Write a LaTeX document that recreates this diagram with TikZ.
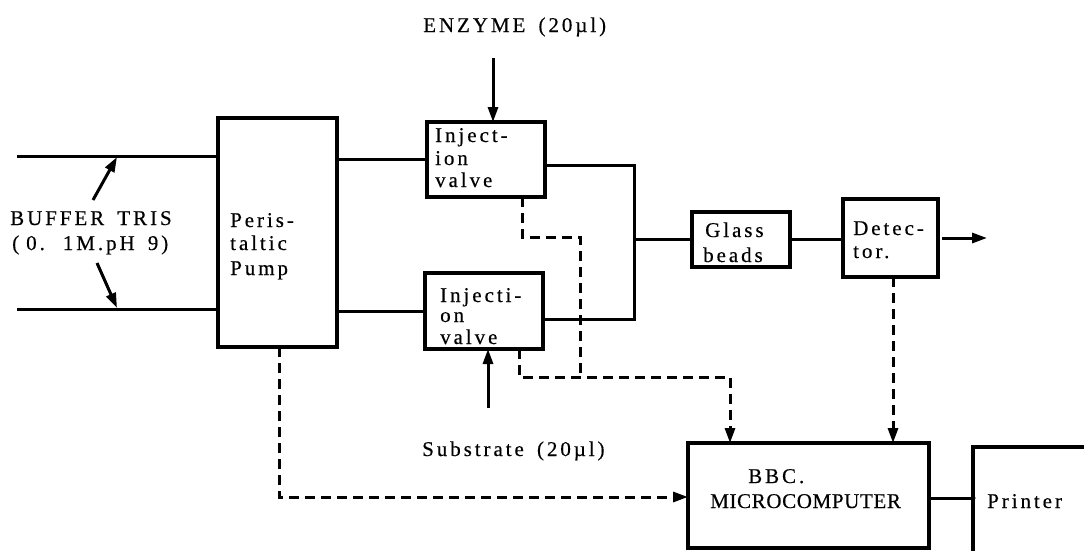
\documentclass[tikz,border=0pt]{standalone}
\usepackage{fontspec}
\setmainfont{Liberation Serif}
\newfontfamily\lsfont[LetterSpace=14,WordSpace=1.6,FakeBold=0.4]{Liberation Serif}
\newfontfamily\lstight[LetterSpace=3,WordSpace=1.6,FakeBold=0.4]{Liberation Serif}
\usetikzlibrary{arrows.meta}
\begin{document}
\begin{tikzpicture}[x=1pt,y=-1pt,
  box/.style={draw, line width=3.2pt, inner sep=0pt, outer sep=0pt},
  boxline/.style={line width=3.2pt},
  txt/.style={anchor=base west, inner sep=0pt, font=\lsfont\fontsize{21}{24}\selectfont},
  txttight/.style={anchor=base west, inner sep=0pt, font=\lstight\fontsize{21}{24}\selectfont},
  flow/.style={line width=3pt},
  sig/.style={line width=3pt, dash pattern=on 10pt off 6pt},
  tip/.style={-{Triangle[length=15pt,width=10pt]}}
]
\useasboundingbox (0,0) rectangle (1084,550);

% boxes
\node[box, minimum width=119pt, minimum height=229pt] (pump) at (277.5,232.5) {};
\node[box, minimum width=118pt, minimum height=75pt] (va) at (486,159.5) {};
\node[box, minimum width=118pt, minimum height=76pt] (vb) at (484,311) {};
\node[box, minimum width=98pt, minimum height=55pt] (glass) at (741,239.5) {};
\node[box, minimum width=95pt, minimum height=78pt] (det) at (890.5,238) {};
\node[box, minimum width=241pt, minimum height=105pt] (micro) at (808.5,495.5) {};
\coordinate (pr1) at (973,552);
\coordinate (pr2) at (973,447);
\coordinate (pr3) at (1086,447);
\coordinate (prtl) at (973,498);
\draw[boxline] (pr1) -- (pr2) -- (pr3);

% texts
\node[txt] (tenz) at (423,32) {ENZYME (20µl)};
\node[txt] (tbuf1) at (10,225) {BUFFER TRIS};
\node[txt] (tbuf2) at (12,250) {(\hspace{7pt}0.\hspace{18pt}1M.pH 9)};
\node[txt] (tp1) at (230,227) {Peris-};
\node[txt] (tp2) at (230,250) {taltic};
\node[txt] (tp3) at (230,275) {Pump};
\node[txt] (tva1) at (435,142) {Inject-};
\node[txt] (tva2) at (435,165) {ion};
\node[txt] (tva3) at (435,187) {valve};
\node[txt] (tvb1) at (440,302) {Injecti-};
\node[txt] (tvb2) at (440,322) {on};
\node[txt] (tvb3) at (440,344) {valve};
\node[txt] (tg1) at (705,237) {Glass};
\node[txt] (tg2) at (703,262) {beads};
\node[txt] (td1) at (853,235) {Detec-};
\node[txt] (td2) at (853,258) {tor.};
\node[txt] (tsub) at (422,456) {Substrate (20µl)};
\node[txt] (tm1) at (748,483) {BBC.};
\node[txttight] (tm2) at (710,508) {MICROCOMPUTER};
\node[txt] (tpr) at (987,508) {Printer};

% flow lines
\coordinate (bufA) at (17,156);
\coordinate (bufB) at (17,309);
\draw[flow] (bufA) -- (bufA -| pump.west);
\draw[flow] (bufB) -- (bufB -| pump.west);
\coordinate (a1s) at (93,200);
\coordinate (a1e) at (117,157);
\coordinate (a2s) at (97,263);
\coordinate (a2e) at (117,308);
\draw[flow,tip] (a1s) -- (a1e);
\draw[flow,tip] (a2s) -- (a2e);
\draw[flow] (va.west -| pump.east) -- (va.west);
\draw[flow] (vb.west -| pump.east) -- (vb.west);
\coordinate (j1) at (634,165);
\coordinate (j2) at (634,319);
\draw[flow] (va.east |- j1) -- (j1) -- (j2) -- (vb.east |- j2);
\draw[flow] (glass.west -| j1) -- (glass.west);
\draw[flow] (glass.east) -- (glass.east -| det.west);
\coordinate (out) at (987,238);
\draw[flow,tip] ([xshift=4pt]det.east) -- (out);
\coordinate (enz) at (493,58);
\draw[flow,tip] (enz) -- (enz |- va.north);
\coordinate (sub) at (488,408);
\draw[flow,tip] (sub) -- (sub |- vb.south);
\draw[flow] (micro.east |- prtl) -- (prtl);
\fill (prtl) circle (2.5pt);

% signal lines
\coordinate (d1a) at (522,237);
\coordinate (d1b) at (580,237);
\coordinate (d1c) at (580,377);
\draw[sig] (va.south -| d1a) -- (d1a) -- (d1b) -- (d1c);
\coordinate (d2a) at (519,377);
\coordinate (d2b) at (730,377);
\draw[sig,tip] (vb.south -| d2a) -- (d2a) -- (d2b) -- (d2b |- micro.north);
\coordinate (d3) at (893,300);
\draw[sig,tip] (det.south -| d3) -- (micro.north -| d3);
\coordinate (d4) at (279,497);
\draw[sig,tip] (pump.south -| d4) -- (d4) -- (d4 -| micro.west);
\end{tikzpicture}
\end{document}
